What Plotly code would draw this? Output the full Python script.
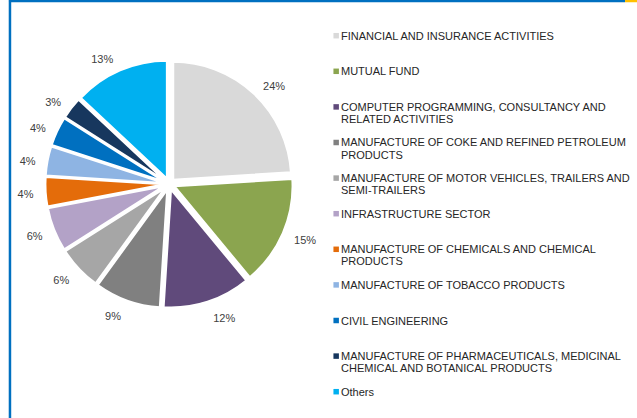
import plotly.graph_objects as go

# ---- data ----
labels = [
    "FINANCIAL AND INSURANCE ACTIVITIES",
    "MUTUAL FUND",
    "COMPUTER PROGRAMMING, CONSULTANCY AND<br>RELATED ACTIVITIES",
    "MANUFACTURE OF COKE AND REFINED PETROLEUM<br>PRODUCTS",
    "MANUFACTURE OF MOTOR VEHICLES, TRAILERS AND<br>SEMI-TRAILERS",
    "INFRASTRUCTURE SECTOR",
    "MANUFACTURE OF CHEMICALS AND CHEMICAL<br>PRODUCTS",
    "MANUFACTURE OF TOBACCO PRODUCTS",
    "CIVIL ENGINEERING",
    "MANUFACTURE OF PHARMACEUTICALS, MEDICINAL<br>CHEMICAL AND BOTANICAL PRODUCTS",
    "Others",
]
values = [24, 15, 12, 9, 6, 6, 4, 4, 4, 3, 13]
colors = [
    "#D9D9D9", "#8BA54F", "#604A7B", "#808080", "#A6A6A6", "#B3A2C7",
    "#E46C0A", "#8EB4E3", "#0070C0", "#17375E", "#00B0F0",
]

W, H = 637, 418
FONT = "Liberation Sans, Arial, sans-serif"


def px(x):
    return x / W


def py(y):
    return 1 - y / H


flat_labels = [l.replace("<br>", " ") for l in labels]

cx, cy, R = 167.0, 184.0, 124.4   # pie centre / outer extent in pixels
LBL = 9.0                          # extra radial offset for the percentage labels
LDY = 2.0                          # small downward shift of the label ring

# visible pie (no text)
fig = go.Figure(
    go.Pie(
        labels=flat_labels,
        values=values,
        sort=False,
        direction="clockwise",
        rotation=0,
        marker=dict(colors=colors, line=dict(color="white", width=2)),
        pull=[0.05] * len(values),
        textinfo="none",
        showlegend=False,
        domain=dict(x=[px(cx - R), px(cx + R)], y=[py(cy + R), py(cy - R)]),
    )
)
# transparent companion pie that carries the outside percentage labels
fig.add_trace(
    go.Pie(
        labels=flat_labels,
        values=values,
        sort=False,
        direction="clockwise",
        rotation=0,
        marker=dict(colors=["rgba(0,0,0,0)"] * len(values), line=dict(width=0)),
        pull=[0.05] * len(values),
        texttemplate="%{percent:.0%}",
        textposition="outside",
        textfont=dict(family=FONT, size=11, color="#404040"),
        hoverinfo="skip",
        showlegend=False,
        domain=dict(x=[px(cx - R - LBL), px(cx + R + LBL)],
                    y=[py(cy + LDY + R + LBL), py(cy + LDY - R - LBL)]),
    )
)

annotations = []
shapes = []
y0, pitch, line_gap = 35.7, 35.6, 12.0
for i, (lab, col) in enumerate(zip(labels, colors)):
    yc = y0 + i * pitch
    for j, part in enumerate(lab.split("<br>")):
        annotations.append(
            dict(
                text=part, x=px(337.5), y=py(yc + j * line_gap), xref="paper", yref="paper",
                xanchor="left", yanchor="middle", showarrow=False,
                font=dict(family=FONT, size=11, color="#262626"),
            )
        )
    shapes.append(
        dict(type="rect", xref="paper", yref="paper", x0=px(332), x1=px(337.5),
             y0=py(yc + 2.75), y1=py(yc - 2.75), fillcolor=col, line=dict(width=0))
    )

# frame lines
shapes.append(dict(type="line", xref="paper", yref="paper", x0=px(6), x1=px(625), y0=py(1), y1=py(1),
                   line=dict(color="#0070C0", width=2.5)))
shapes.append(dict(type="line", xref="paper", yref="paper", x0=px(625), x1=px(637), y0=py(1), y1=py(1),
                   line=dict(color="#FFC000", width=2.5)))
shapes.append(dict(type="line", xref="paper", yref="paper", x0=px(7), x1=px(7), y0=py(0), y1=py(418),
                   line=dict(color="#0070C0", width=2.5)))

fig.update_layout(
    width=W, height=H, margin=dict(l=0, r=0, t=0, b=0),
    paper_bgcolor="white", plot_bgcolor="white",
    annotations=annotations, shapes=shapes,
)

fig.write_html("out.html", config={"displayModeBar": False},
               post_script="document.body.style.margin='0';")
